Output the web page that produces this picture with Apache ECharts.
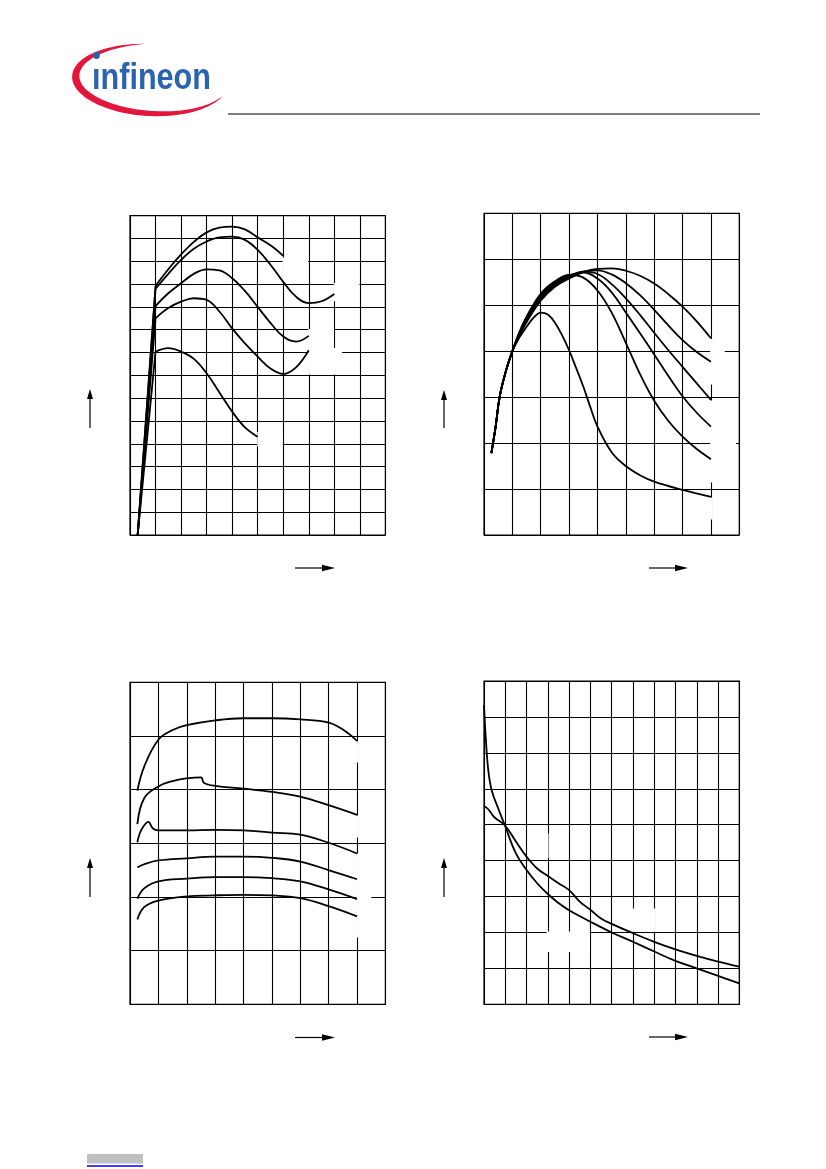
<!DOCTYPE html>
<html><head><meta charset="utf-8">
<script src="https://cdn.jsdelivr.net/npm/echarts@6/dist/echarts.min.js"></script>
<style>html,body{margin:0;padding:0;background:#fff}#c{width:826px;height:1169px}</style>
</head><body><div id="c"></div>
<script>
// ---------- DATA (grid units) ----------
// Chart 1 (top-left): x 0..10, y 0..14
const c1RiseX = 0.3;
const c1CurveA = [[1,10.92],[1.5,11.65],[2,12.3],[2.5,12.85],[3,13.27],[3.5,13.48],[4,13.52],[4.5,13.4],[5,13.05],[5.5,12.7],[6,12.24]];
const c1CurveB = [[1,10.8],[1.5,11.45],[2,12.06],[2.5,12.55],[3,12.87],[3.5,13.05],[4,13.08],[4.5,12.94],[5,12.5],[5.5,11.85],[6,11.1],[6.5,10.45],[7,10.17],[7.5,10.25],[8,10.57]];
const c1CurveC = [[1,10.04],[1.5,10.6],[2,11.04],[2.5,11.45],[3,11.65],[3.5,11.6],[4,11.26],[4.5,10.7],[5,10.0],[5.5,9.3],[6,8.7],[6.5,8.48],[7,8.73]];
const c1CurveD = [[1,9.5],[1.5,9.95],[2,10.23],[2.5,10.38],[3,10.31],[3.5,9.8],[4,9.06],[4.5,8.4],[5,7.82],[5.5,7.3],[6,7.06],[6.5,7.35],[7,8.1]];
const c1CurveE = [[1,8.04],[1.5,8.19],[2,8.04],[2.5,7.72],[3,7.09],[3.5,6.25],[4,5.41],[4.5,4.72],[5,4.31]];

// Chart 2 (top-right): x 0..9, y 0..7
const c2Rise    = [[0.26,1.78],[0.41,2.36],[0.55,3.0],[0.75,3.52],[1,4.0]];
const c2CurveF  = [[1.25,4.3],[1.5,4.53],[1.75,4.73],[2,4.84],[2.25,4.8],[2.5,4.62],[2.75,4.35],[3,4.02],[3.25,3.63],[3.5,3.23],[3.75,2.78],[4,2.36],[4.5,1.8],[5,1.5],[5.5,1.3],[6,1.16],[7,0.98],[8,0.83]];
const c2CurveG1 = [[1.25,4.42],[1.5,4.75],[2,5.25],[2.5,5.52],[3,5.66],[3.5,5.6],[4,5.32],[4.5,4.84],[5,4.18],[5.5,3.5],[6,2.92],[6.5,2.48],[7,2.14],[7.5,1.87],[8,1.65]];
const c2CurveG2 = [[1.25,4.4],[1.5,4.72],[2,5.22],[2.5,5.5],[3,5.65],[3.5,5.71],[4,5.58],[4.5,5.28],[5,4.84],[5.5,4.39],[6,3.93],[6.5,3.46],[7,3.02],[7.5,2.66],[8,2.36]];
const c2CurveG3 = [[1.25,4.38],[1.5,4.69],[2,5.18],[2.5,5.47],[3,5.63],[3.5,5.73],[4,5.68],[4.5,5.46],[5,5.15],[5.5,4.79],[6,4.4],[6.5,4.02],[7,3.66],[7.5,3.3],[8,2.94]];
const c2CurveG4 = [[1.25,4.36],[1.5,4.66],[2,5.14],[2.5,5.44],[3,5.61],[3.5,5.73],[4,5.76],[4.5,5.67],[5,5.48],[5.5,5.22],[6,4.9],[6.5,4.56],[7,4.24],[7.5,3.98],[8,3.77]];
const c2CurveG5 = [[1.25,4.34],[1.5,4.63],[2,5.1],[2.5,5.4],[3,5.58],[3.5,5.72],[4,5.79],[4.5,5.8],[5,5.75],[5.5,5.64],[6,5.47],[6.5,5.24],[7,4.97],[7.5,4.65],[8,4.28]];

// Chart 3 (bottom-left): x 0..9, y 0..6
const c3CurveH1 = [[0.26,3.98],[0.5,4.43],[1,4.93],[1.5,5.11],[2,5.2],[3,5.29],[4,5.33],[5,5.33],[6,5.31],[7,5.25],[7.5,5.12],[8,4.91]];
const c3CurveH2 = [[0.26,3.36],[0.5,3.84],[1,4.06],[1.5,4.16],[2,4.21],[2.5,4.23],[2.6,4.13],[3,4.07],[4,4.02],[5,3.96],[6,3.87],[7,3.71],[8,3.53]];
const c3CurveH3 = [[0.26,3.02],[0.4,3.25],[0.65,3.4],[0.8,3.28],[1,3.24],[2,3.24],[3,3.25],[4,3.24],[5,3.2],[6,3.16],[7,3.01],[8,2.81]];
const c3CurveH4 = [[0.26,2.55],[0.5,2.61],[1,2.68],[2,2.72],[3,2.75],[4,2.75],[5,2.73],[6,2.66],[7,2.5],[8,2.33]];
const c3CurveH5 = [[0.26,1.97],[0.5,2.16],[1,2.29],[2,2.34],[3,2.37],[4,2.37],[5,2.35],[6,2.29],[7,2.14],[8,1.96]];
const c3CurveH6 = [[0.26,1.58],[0.5,1.81],[1,1.93],[2,2.01],[3,2.03],[4,2.04],[5,2.03],[6,1.98],[7,1.83],[8,1.64]];

// Chart 4 (bottom-right): x 0..12, y 0..9
const c4CurveP = [[0,8.33],[0.08,7.45],[0.2,6.52],[0.36,5.96],[0.67,5.45],[1,4.95],[1.5,4.2],[2,3.74],[2.5,3.37],[3,3.07],[3.5,2.82],[4,2.62],[5,2.3],[6,2.0],[7,1.74],[8,1.47],[9,1.21],[10,1.0],[11,0.79],[12,0.58]];
const c4CurveQ = [[0,5.52],[0.2,5.43],[0.5,5.2],[1,4.97],[1.5,4.53],[2,4.11],[2.5,3.78],[3,3.57],[3.5,3.37],[4,3.18],[4.5,2.86],[5,2.63],[5.5,2.39],[6,2.24],[7,1.98],[8,1.74],[9,1.53],[10,1.35],[11,1.19],[12,1.05]];

// ---------- LAYOUT ----------
const grids = [
  {left:130, top:215.7, width:255.4, height:319.3, xMax:10, yMax:14},
  {left:484, top:213.3, width:255.3, height:321.7, xMax:9,  yMax:7},
  {left:130, top:682.3, width:255.4, height:322,   xMax:9,  yMax:6},
  {left:484, top:681,   width:255.3, height:323.3, xMax:12, yMax:9}
];

const chart = echarts.init(document.getElementById('c'), null, {renderer:'canvas'});

function line(gi, data, smooth){
  return {type:'line', xAxisIndex:gi, yAxisIndex:gi, data:data, smooth:smooth,
    symbol:'none', showSymbol:false, silent:true, animation:false, z:3,
    lineStyle:{color:'#000', width:1.8}};
}
const series = [];
[c1CurveA,c1CurveB,c1CurveC,c1CurveD,c1CurveE].forEach(c=>{
  series.push(line(0,[[c1RiseX,0],c[0]],false));
  series.push(line(0,c,0.4));
});
[c2CurveF,c2CurveG1,c2CurveG2,c2CurveG3,c2CurveG4,c2CurveG5].forEach(c=>series.push(line(1,c2Rise.concat(c),0.4)));
[c3CurveH1,c3CurveH2,c3CurveH3,c3CurveH4,c3CurveH5,c3CurveH6].forEach(c=>series.push(line(2,c,0.4)));
[c4CurveP,c4CurveQ].forEach(c=>series.push(line(3,c,0.4)));

function axis(gi,max){
  return {type:'value', gridIndex:gi, min:0, max:max, interval:1,
    axisLine:{show:false}, axisTick:{show:false}, axisLabel:{show:false},
    splitLine:{show:true, lineStyle:{color:'#000', width:1.1}}};
}

// ---------- DECORATION ----------
const gfx = [];
// header rule
gfx.push({type:'line', shape:{x1:228,y1:114,x2:760,y2:114}, style:{stroke:'#000', lineWidth:1.2}});
// logo swoosh
(function(){
  const cx=150, cy=80, rx=78, ry=36, phi=3*Math.PI/180, t1=-95, t2=-340, N=90;
  const outer=[], inner=[];
  for(let i=0;i<=N;i++){
    const s=i/N, t=(t1+(t2-t1)*s)*Math.PI/180;
    const w=8*Math.pow(Math.sin(Math.PI*s),0.8);
    const p=(a,b)=>[cx+a*Math.cos(phi)-b*Math.sin(phi), cy+a*Math.sin(phi)+b*Math.cos(phi)];
    outer.push(p(rx*Math.cos(t), ry*Math.sin(t)));
    inner.push(p((rx-w)*Math.cos(t), (ry-w*0.8)*Math.sin(t)));
  }
  gfx.push({type:'polygon', shape:{points:outer.concat(inner.reverse())}, style:{fill:'#e3173e'}});
})();
gfx.push({type:'text', x:92, y:79, scaleX:0.85, style:{text:'\u0131nfineon', font:'bold 36px "Liberation Sans"', fill:'#2a63b2', textAlign:'left', align:'left', textVerticalAlign:'middle', verticalAlign:'middle'}});
gfx.push({type:'circle', shape:{cx:96.5, cy:55.5, r:3.4}, style:{fill:'#2a63b2'}});

// arrows
function arrowUp(x, yb, yt){
  gfx.push({type:'line', shape:{x1:x,y1:yb,x2:x,y2:yt+9}, style:{stroke:'#000', lineWidth:1.2}});
  gfx.push({type:'polygon', shape:{points:[[x,yt],[x-3,yt+10],[x+3,yt+10]]}, style:{fill:'#000'}});
}
function arrowRight(y, xl, xt){
  gfx.push({type:'line', shape:{x1:xl,y1:y,x2:xt-10,y2:y}, style:{stroke:'#000', lineWidth:1.2}});
  gfx.push({type:'polygon', shape:{points:[[xt,y],[xt-13,y-3.3],[xt-13,y+3.3]]}, style:{fill:'#000'}});
}
arrowUp(90, 428, 389); arrowRight(568, 295, 335);
arrowUp(444, 428, 390); arrowRight(568, 649, 688);
arrowUp(90, 897, 858); arrowRight(1037.5, 295, 335);
arrowUp(444, 897, 858); arrowRight(1037, 649, 688);

// erased-label gaps in grids
const gaps = [
  [282.6,257.5,25.6,25.5],[333.8,283.3,25.6,18],[308.4,329,25.6,45.6],[334,348,8,26.6],[257.2,432,25.4,14.5],
  [710.2,339,14.5,45.5],[710.2,400.5,25.8,82],[710.2,497.5,1.8,22],
  [356.4,741.5,1.8,21],[356.4,815.5,1.8,22],[356.4,853.5,15,84],
  [547,833.5,1.6,24.5],[546.6,931.5,43.2,20.5],[632,908.5,23,23.3]
];
gaps.forEach(g=>gfx.push({type:'rect', z:1, shape:{x:g[0],y:g[1],width:g[2],height:g[3]}, style:{fill:'#fff'}}));

// footer bar
gfx.push({type:'rect', shape:{x:87,y:1154,width:56,height:9.5}, style:{fill:'#c0c0c0'}});
gfx.push({type:'line', shape:{x1:87,y1:1166,x2:143,y2:1166}, style:{stroke:'#0000ff', lineWidth:1.5}});

chart.setOption({
  animation:false,
  backgroundColor:'#fff',
  grid: grids.map(g=>({left:g.left, top:g.top, width:g.width, height:g.height, show:true, borderColor:'#000', borderWidth:1.2, backgroundColor:'transparent'})),
  xAxis: grids.map((g,i)=>axis(i,g.xMax)),
  yAxis: grids.map((g,i)=>axis(i,g.yMax)),
  series: series,
  graphic: gfx.map(e=>Object.assign({silent:true}, e, {z: e.z!==undefined? e.z : 5}))
});
</script></body></html>
